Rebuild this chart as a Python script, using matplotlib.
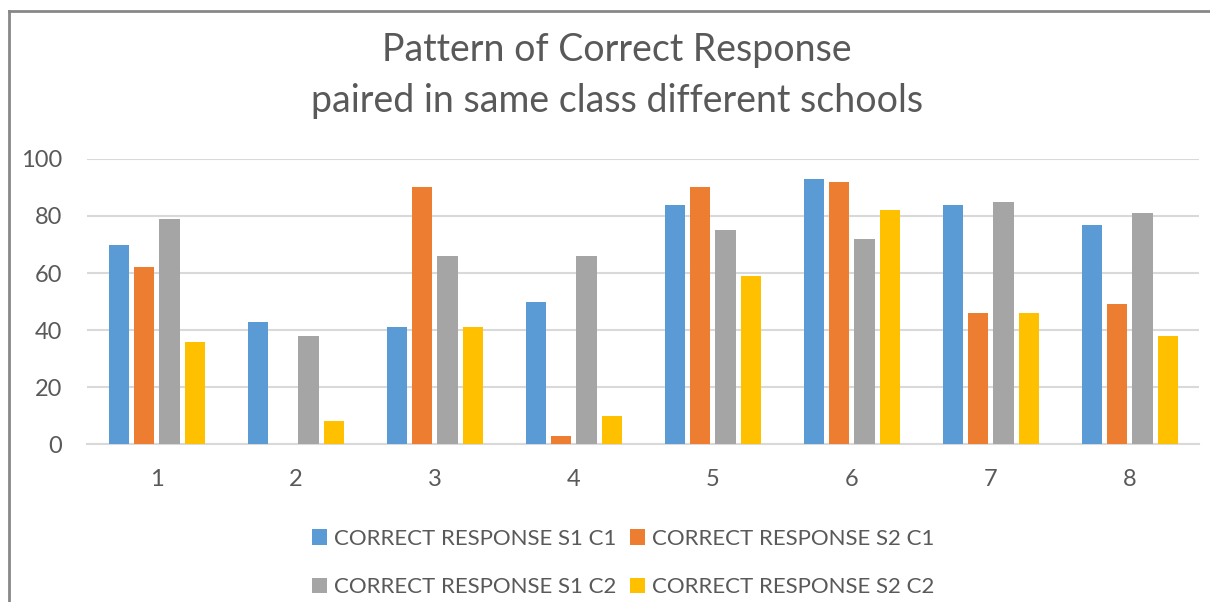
# ---------------------------
# Pattern of correct response chart
# ---------------------------
import numpy as np
import matplotlib.pyplot as plt
from matplotlib.patches import Patch
from matplotlib.lines import Line2D

plt.rcParams['font.family'] = ['Lato', 'DejaVu Sans']

# ---------------------------
# Data
# ---------------------------
questions = ["1", "2", "3", "4", "5", "6", "7", "8"]
s1_c1 = [70, 43, 41, 50, 84, 93, 84, 77]
s2_c1 = [62, 0, 90, 3, 90, 92, 46, 49]
s1_c2 = [79, 38, 66, 66, 75, 72, 85, 81]
s2_c2 = [36, 8, 41, 10, 59, 82, 46, 38]
series_names = ["CORRECT RESPONSE S1 C1", "CORRECT RESPONSE S2 C1",
                "CORRECT RESPONSE S1 C2", "CORRECT RESPONSE S2 C2"]
colors = ["#5B9BD5", "#ED7D31", "#A5A5A5", "#FFC000"]
text_color = "#595959"

# ---------------------------
# Figure
# ---------------------------
fig = plt.figure(figsize=(12.1, 6.02), dpi=100)
ax = fig.add_axes([0.0723, 0.262, 0.919, 0.474])

x = np.arange(len(questions))
pitch = 0.181
width = 0.145
all_series = [s1_c1, s2_c1, s1_c2, s2_c2]
for i, (vals, col) in enumerate(zip(all_series, colors)):
    ax.bar(x + (i - 1.5) * pitch, vals, width=width, color=col, zorder=3)

ax.set_xlim(-0.5, len(questions) - 0.5)
ax.set_ylim(0, 100)
ax.set_yticks(range(0, 101, 20))
ax.set_xticks(x)
ax.set_xticklabels(questions)
ax.yaxis.grid(True, color="#D9D9D9", linewidth=1.5, zorder=0)
ax.set_axisbelow(True)
for side in ["top", "right", "left"]:
    ax.spines[side].set_visible(False)
ax.spines["bottom"].set_color("#D9D9D9")
ax.spines["bottom"].set_linewidth(1.5)
ax.tick_params(axis="both", length=0, labelsize=17, colors=text_color, pad=18)

# title (two lines)
fig.text(0.51, 1 - 50 / 602, "Pattern of Correct Response", ha="center", va="center",
         fontsize=27, color=text_color)
fig.text(0.51, 1 - 101 / 602, "paired in same class different schools", ha="center",
         va="center", fontsize=27, color=text_color)

# legend, row-major order like the original (matplotlib fills by column)
handles = [Patch(facecolor=c, edgecolor="none") for c in colors]
order = [0, 2, 1, 3]
fig.legend([handles[k] for k in order], [series_names[k] for k in order],
           loc="center", ncol=2,
           bbox_to_anchor=(623 / 1210, 1 - 563 / 602), frameon=False,
           fontsize=16, labelcolor=text_color, handlelength=0.7, handleheight=0.7,
           handletextpad=0.3, columnspacing=0.6, labelspacing=1.3)

# outer border (top and left only visible)
fig.add_artist(Line2D([9 / 1210, 1], [1 - 11 / 602, 1 - 11 / 602],
                      transform=fig.transFigure, color="#888888", linewidth=2))
fig.add_artist(Line2D([9 / 1210, 9 / 1210], [0, 1 - 11 / 602],
                      transform=fig.transFigure, color="#888888", linewidth=2))

fig.savefig("out.png", dpi=100)
